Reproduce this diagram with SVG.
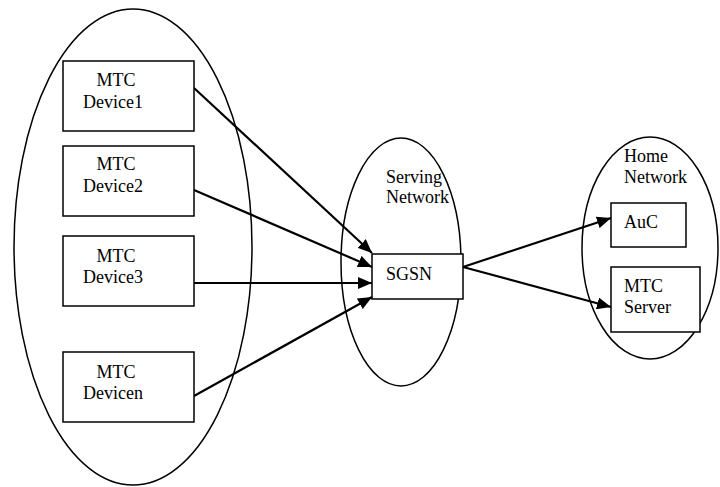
<svg xmlns="http://www.w3.org/2000/svg" width="720" height="487" viewBox="0 0 720 487">
<style>
text{font-family:"Liberation Serif","Times New Roman",serif;font-size:18px;fill:#000}
.e{fill:none;stroke:#000;stroke-width:1.5}
.b{fill:#fff;stroke:#000;stroke-width:1.5}
.c{fill:none;stroke:#000;stroke-width:2.2}
</style>
<defs>
<marker id="ah" markerWidth="14" markerHeight="12" refX="14" refY="6" orient="auto" markerUnits="userSpaceOnUse">
<path d="M0,0 L14,6 L0,12 Z" fill="#000"/>
</marker>
</defs>
<g id="devices-domain"><ellipse class="e" cx="133" cy="247" rx="119" ry="238"/></g>
<g id="serving-network"><ellipse class="e" cx="401" cy="262" rx="60" ry="124"/>
<text x="386" y="183">Serving</text><text x="386" y="203">Network</text></g>
<g id="home-network"><ellipse class="e" cx="650" cy="248" rx="68" ry="111"/>
<text x="624" y="162">Home</text><text x="624" y="183">Network</text></g>
<g id="connectors">
<line class="c" x1="194" y1="88" x2="372" y2="253" marker-end="url(#ah)"/>
<line class="c" x1="194" y1="190" x2="372" y2="267" marker-end="url(#ah)"/>
<line class="c" x1="194" y1="283" x2="372" y2="283" marker-end="url(#ah)"/>
<line class="c" x1="194" y1="396" x2="372" y2="297" marker-end="url(#ah)"/>
<line class="c" x1="463" y1="267" x2="611" y2="218" marker-end="url(#ah)"/>
<line class="c" x1="463" y1="267" x2="611" y2="307" marker-end="url(#ah)"/>
</g>
<g id="device1"><rect class="b" x="63" y="61" width="131" height="70"/><text x="116" y="86" text-anchor="middle">MTC</text><text x="113" y="108" text-anchor="middle">Device1</text></g>
<g id="device2"><rect class="b" x="63" y="146" width="131" height="70"/><text x="116" y="170" text-anchor="middle">MTC</text><text x="113" y="192" text-anchor="middle">Device2</text></g>
<g id="device3"><rect class="b" x="63" y="236" width="131" height="70"/><text x="116" y="262" text-anchor="middle">MTC</text><text x="113" y="283" text-anchor="middle">Device3</text></g>
<g id="devicen"><rect class="b" x="63" y="352" width="131" height="70"/><text x="116" y="378" text-anchor="middle">MTC</text><text x="113" y="399" text-anchor="middle">Devicen</text></g>
<g id="sgsn"><rect class="b" x="372" y="254" width="91" height="45"/><text x="386" y="280">SGSN</text></g>
<g id="auc"><rect class="b" x="611" y="203" width="75" height="44"/><text x="624" y="228">AuC</text></g>
<g id="mtc-server"><rect class="b" x="611" y="267" width="89" height="65"/><text x="624" y="292">MTC</text><text x="624" y="313">Server</text></g>
</svg>
